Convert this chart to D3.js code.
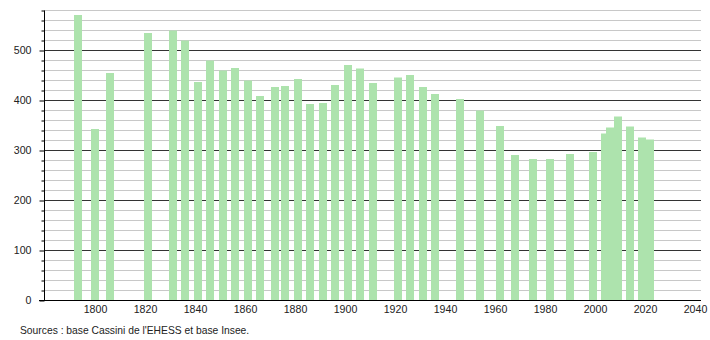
<!DOCTYPE html>
<style>
  body { margin: 0; background: #fff; }
  text { font-family: "Liberation Sans", Arial, sans-serif; fill: #222; }
</style>
<svg width="710" height="340"></svg>
<script src="https://d3js.org/d3.v7.min.js"></script>
<script>
  var years = [1793, 1800, 1806, 1821, 1831, 1836, 1841, 1846, 1851, 1856, 1861, 1866,
    1872, 1876, 1881, 1886, 1891, 1896, 1901, 1906, 1911, 1921, 1926, 1931, 1936,
    1946, 1954, 1962, 1968, 1975, 1982, 1990, 1999, 2004, 2006, 2009, 2014, 2019, 2022];
  var population = [570, 342, 454, 534, 539, 519, 436, 479, 459, 464, 439, 408,
    426, 428, 442, 392, 394, 430, 470, 463, 434, 445, 450, 426, 412,
    402, 379, 348, 290, 282, 282, 292, 296, 333, 345, 367, 347, 325, 321];
  var xTicks = [1800, 1820, 1840, 1860, 1880, 1900, 1920, 1940, 1960, 1980, 2000, 2020, 2040];
  var yTicks = [0, 100, 200, 300, 400, 500];
  var source = "Sources : base Cassini de l'EHESS et base Insee.";

  var svg = d3.select("svg");
  var x = d3.scaleLinear().domain([1780, 2040]).range([45, 695]);
  var y = d3.scaleLinear().domain([0, 580]).range([300, 10]);
  var left = 44, right = 701;

  // grid
  var minor = d3.range(0, 581, 20);
  svg.append("g").selectAll("line")
    .data(minor)
    .enter().append("line")
      .attr("x1", left).attr("x2", right)
      .attr("y1", function(d) { return y(d) + 0.5; })
      .attr("y2", function(d) { return y(d) + 0.5; })
      .attr("stroke", function(d) { return d % 100 === 0 ? "#333" : "#c8c8c8"; })
      .attr("stroke-width", 1);

  // bars
  svg.append("g").selectAll("rect")
    .data(years)
    .enter().append("rect")
      .attr("x", function(d) { return Math.round(x(d) - 4); })
      .attr("width", 8)
      .attr("y", function(d, i) { return y(population[i]); })
      .attr("height", function(d, i) { return y(0) - y(population[i]); })
      .attr("fill", "#ade3ad");

  // y axis
  var yAxis = d3.axisLeft(y).tickValues(minor).tickSize(3)
    .tickFormat(function(d) { return yTicks.indexOf(d) >= 0 ? d : ""; });
  var gy = svg.append("g").attr("transform", "translate(" + (left + 0.5) + ",0.5)").call(yAxis);
  gy.select(".domain").remove();
  gy.append("line").attr("x1", 0).attr("x2", 0).attr("y1", y(580)).attr("y2", y(0)).attr("stroke", "#000");
  gy.selectAll(".tick line").attr("stroke", "#000")
    .attr("x2", function(d) { return d % 100 === 0 ? -5 : -3; });
  gy.selectAll(".tick text").attr("x", -13).attr("font-size", 10.6)
    .style("font-family", "'Liberation Sans', Arial, sans-serif").attr("fill", "#222");

  // x axis
  var xAxis = d3.axisBottom(x).tickValues(xTicks).tickSize(0).tickFormat(d3.format("d"));
  var gx = svg.append("g").attr("transform", "translate(0," + (y(0) + 0.5) + ")").call(xAxis);
  gx.select(".domain").remove();
  gx.append("line").attr("x1", 39).attr("x2", right).attr("stroke", "#000");
  gx.selectAll(".tick text").attr("y", 5).attr("font-size", 10.6)
    .style("font-family", "'Liberation Sans', Arial, sans-serif").attr("fill", "#222");

  svg.append("text")
    .attr("x", 20).attr("y", 334)
    .attr("font-size", 10.3)
    .text(source);
</script>
